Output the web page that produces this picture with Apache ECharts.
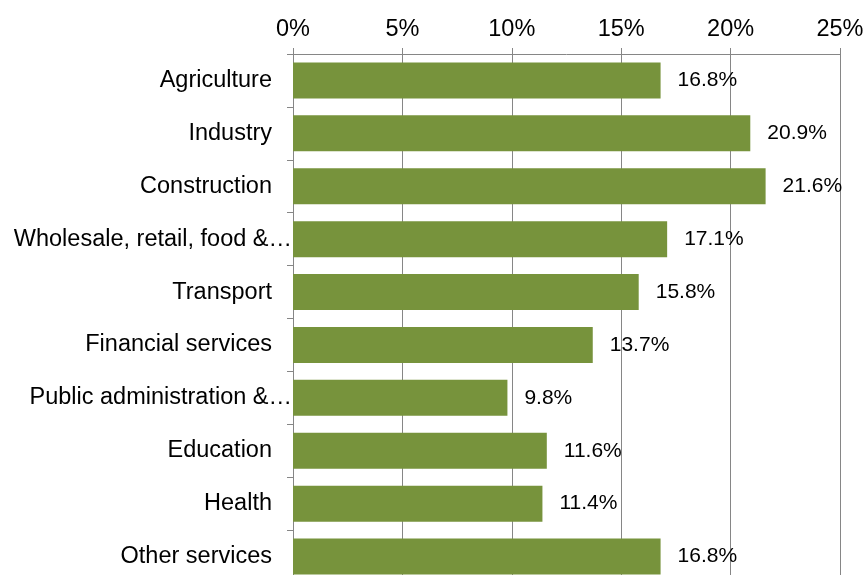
<!DOCTYPE html>
<html>
<head>
<meta charset="utf-8">
<script src="https://cdn.jsdelivr.net/npm/echarts@6/dist/echarts.min.js"></script>
<style>
  html, body { margin: 0; padding: 0; background: #ffffff; }
  #chart { width: 866px; height: 575px; }
</style>
</head>
<body>
<div id="chart"></div>
<script>
// Sectors, top to bottom
var categories = [
  'Agriculture',
  'Industry',
  'Construction',
  'Wholesale, retail, food &…',
  'Transport',
  'Financial services',
  'Public administration &…',
  'Education',
  'Health',
  'Other services'
];

// Share per sector, in percent
var shares = [16.8, 20.9, 21.6, 17.1, 15.8, 13.7, 9.8, 11.6, 11.4, 16.8];

// Percent axis ticks
var axisMin = 0;
var axisMax = 25;
var axisStep = 5;

// Labels that were cut short run right up to the axis line
var shortened = ['Wholesale, retail, food &…', 'Public administration &…'];

var FONT = "'Liberation Sans', Arial, Helvetica, sans-serif";
var GRID_COLOR = '#868686';
var BAR_COLOR = '#77933C';

var chart = echarts.init(document.getElementById('chart'), null, { renderer: 'canvas' });

chart.setOption({
  animation: false,
  backgroundColor: '#ffffff',
  grid: {
    left: 293,
    right: 26,
    top: 54,
    height: 529,
    containLabel: false,
    outerBoundsMode: 'none'
  },
  xAxis: {
    type: 'value',
    position: 'top',
    min: axisMin,
    max: axisMax,
    interval: axisStep,
    axisLine: { show: true, lineStyle: { color: GRID_COLOR, width: 1 } },
    axisTick: { show: true, length: 6, lineStyle: { color: GRID_COLOR, width: 1 } },
    splitLine: { show: true, lineStyle: { color: GRID_COLOR, width: 1 } },
    axisLabel: {
      margin: 12,
      color: '#000000',
      fontFamily: FONT,
      fontSize: 23.5,
      formatter: '{value}%'
    }
  },
  yAxis: {
    type: 'category',
    inverse: true,
    data: categories,
    axisLine: { show: true, lineStyle: { color: GRID_COLOR, width: 1 } },
    axisTick: { show: true, length: 6, alignWithLabel: false, lineStyle: { color: GRID_COLOR, width: 1 } },
    splitLine: { show: false },
    axisLabel: {
      margin: 1,
      interval: 0,
      formatter: function (v) {
        return shortened.indexOf(v) >= 0 ? '{w|' + v + '}' : '{n|' + v + '}';
      },
      rich: {
        n: { color: '#000000', fontFamily: FONT, fontSize: 23.5, padding: [0, 20, 0, 0] },
        w: { color: '#000000', fontFamily: FONT, fontSize: 23.5, padding: [0, 0, 0, 0] }
      }
    }
  },
  series: [{
    type: 'bar',
    data: shares,
    barCategoryGap: '32%',
    itemStyle: { color: BAR_COLOR },
    label: {
      show: true,
      position: 'right',
      distance: 17,
      color: '#000000',
      fontFamily: FONT,
      fontSize: 21,
      formatter: function (p) { return p.value.toFixed(1) + '%'; }
    }
  }]
});
</script>
</body>
</html>
